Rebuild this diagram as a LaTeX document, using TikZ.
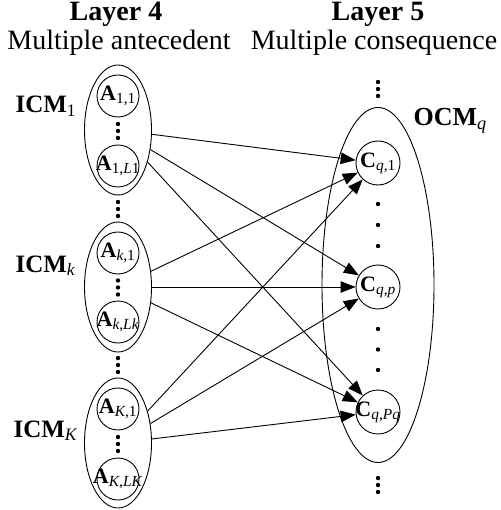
\documentclass[tikz,border=0pt]{standalone}
\usepackage{fontspec}
\setmainfont{Liberation Serif}
\usetikzlibrary{shapes.geometric,arrows.meta}
\begin{document}
\begin{tikzpicture}[x=1pt,y=-1pt,
  grp/.style={ellipse, draw, line width=0.9pt, minimum width=67pt, minimum height=130pt, inner sep=0pt},
  unit/.style={circle, draw, line width=0.9pt, minimum size=42pt, inner sep=0pt,
                font=\fontsize{22}{26}\selectfont},
  link/.style={line width=0.9pt, -{Triangle[length=15pt,width=11.5pt]}},
  title/.style={anchor=base, font=\fontsize{28}{32}\selectfont\bfseries},
  subtitle/.style={anchor=base, font=\fontsize{28}{32}\selectfont},
  grplabel/.style={anchor=base west, font=\fontsize{25}{30}\selectfont\bfseries},
  outlabel/.style={anchor=base west, font=\fontsize{26}{30}\selectfont\bfseries}]
\useasboundingbox (0,0) rectangle (500,510);

% column headings
\node[title]    (h4)  at (116,21) {Layer 4};
\node[subtitle] (s4)  at (119,50) {Multiple antecedent};
\node[title]    (h5)  at (378,21) {Layer 5};
\node[subtitle] (s5)  at (374,50) {Multiple consequence};

% input cluster memberships (layer 4)
\node[grp] (icm1) at (118,130) {};
\node[grp] (icmk) at (118,287) {};
\node[grp] (icmK) at (118,443) {};

\node[unit] (a11) at (118,96)  {\makebox[0pt]{\textbf{A}\textsubscript{1,1}}};
\node[unit] (a1L) at (118,166) {\makebox[0pt]{\textbf{A}\textsubscript{1,\textit{L}1}}};
\node[unit] (ak1) at (118,253) {\makebox[0pt]{\textbf{A}\textsubscript{\textit{k},1}}};
\node[unit] (akL) at (118,322) {\makebox[0pt]{\textbf{A}\textsubscript{\textit{k},\textit{Lk}}}};
\node[unit] (aK1) at (118,409) {\makebox[0pt]{\textbf{A}\textsubscript{\textit{K},1}}};
\node[unit] (aKL) at (118,479) {\makebox[0pt]{\textbf{A}\textsubscript{\textit{K},\textit{LK}}}};

\node[grplabel] (l1) at (12,113) {ICM\textsubscript{\mdseries 1}};
\node[grplabel] (lk) at (12,272) {ICM\textsubscript{\mdseries\itshape k}};
\node[grplabel] (lK) at (10,437) {ICM\textsubscript{\mdseries\itshape K}};

% output cluster membership (layer 5)
\node[grp, minimum width=112pt, minimum height=355pt] (ocm) at (378,285) {};
\node[outlabel] (lq) at (410,126) {OCM\textsubscript{\mdseries\itshape q}};

\node[unit, minimum size=44pt] (c1) at (378,163) {\makebox[0pt]{\textbf{C}\textsubscript{\textit{q},1}}};
\node[unit, minimum size=44pt] (cp) at (378,287) {\makebox[0pt]{\textbf{C}\textsubscript{\textit{q},\textit{p}}}};
\node[unit, minimum size=44pt] (cP) at (378,412) {\makebox[0pt]{\textbf{C}\textsubscript{\textit{q},\textit{Pq}}}};

% ellipsis dots
\foreach \y in {124,131,138, 202,209,216, 280.5,287.5,294.5, 358,365,372, 437,444,451}
  \fill (118,\y) circle (2.2pt);
\foreach \y in {82,89,96, 204,225,246, 329,349.5,370, 478,485,492}
  \fill (378,\y) circle (2.2pt);

% rule links
\foreach \s in {icm1,icmk,icmK}
  \foreach \t in {c1,cp,cP}
    \draw[link] (\s) -- (\t);
\end{tikzpicture}
\end{document}
